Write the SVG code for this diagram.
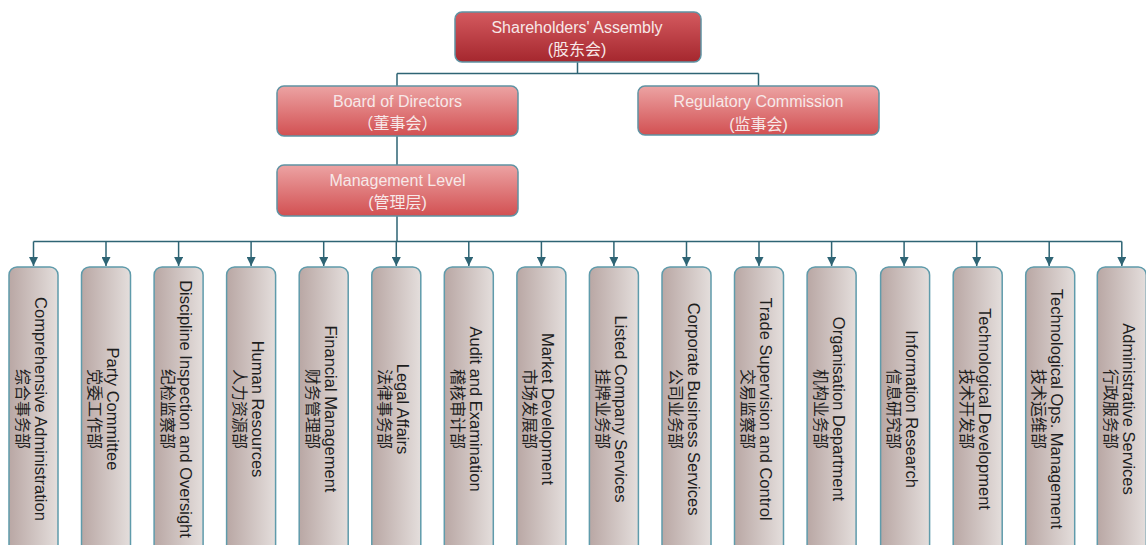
<svg xmlns="http://www.w3.org/2000/svg" width="1146" height="545" viewBox="0 0 1146 545">
<defs>
<linearGradient id="gTop" x1="0" y1="0" x2="0" y2="1"><stop offset="0" stop-color="#d45a5f"/><stop offset="1" stop-color="#a5272e"/></linearGradient>
<linearGradient id="gMid" x1="0" y1="0" x2="0" y2="1"><stop offset="0" stop-color="#eca3a3"/><stop offset="1" stop-color="#d25052"/></linearGradient>
<linearGradient id="gDept" x1="0" y1="0" x2="1" y2="0"><stop offset="0" stop-color="#b9a7a4"/><stop offset="1" stop-color="#e4dedc"/></linearGradient>
<marker id="arr" viewBox="0 0 10 10" refX="10" refY="5" markerWidth="9" markerHeight="9" markerUnits="userSpaceOnUse" orient="auto"><path d="M0,0 L10,5 L0,10 z" fill="#2e6474"/></marker>
<style>
.node{stroke:#5f93a3;stroke-width:1.5}
.nt{font-family:"Liberation Sans","Noto Sans CJK SC",sans-serif;font-size:16px;fill:#f7e8e8;text-anchor:middle}
.dept{fill:url(#gDept);stroke:#5f9bab;stroke-width:1.5}
.dt{font-family:"Liberation Sans","Noto Sans CJK SC",sans-serif;font-size:16.5px;fill:#1e1e1e;text-anchor:middle}
.cn{font-family:"Noto Sans CJK SC",sans-serif;font-size:16px}
.conn{stroke:#2e6474;stroke-width:1.5;fill:none}
</style>
</defs>
<rect width="1146" height="545" fill="#ffffff"/>
<g id="connectors" class="conn">
<path d="M577.5,62 V73.5 M397,73.5 H758.5 M397,73.5 V86 M758.5,73.5 V86 M397,136 V165 M397,216 V241.5 M33.5,241.5 H1121.75"/>
<line x1="33.5" y1="241.5" x2="33.5" y2="266" marker-end="url(#arr)"/>
<line x1="106" y1="241.5" x2="106" y2="266" marker-end="url(#arr)"/>
<line x1="178.6" y1="241.5" x2="178.6" y2="266" marker-end="url(#arr)"/>
<line x1="251.1" y1="241.5" x2="251.1" y2="266" marker-end="url(#arr)"/>
<line x1="323.7" y1="241.5" x2="323.7" y2="266" marker-end="url(#arr)"/>
<line x1="396.3" y1="241.5" x2="396.3" y2="266" marker-end="url(#arr)"/>
<line x1="468.8" y1="241.5" x2="468.8" y2="266" marker-end="url(#arr)"/>
<line x1="541.4" y1="241.5" x2="541.4" y2="266" marker-end="url(#arr)"/>
<line x1="613.9" y1="241.5" x2="613.9" y2="266" marker-end="url(#arr)"/>
<line x1="686.5" y1="241.5" x2="686.5" y2="266" marker-end="url(#arr)"/>
<line x1="759" y1="241.5" x2="759" y2="266" marker-end="url(#arr)"/>
<line x1="831.6" y1="241.5" x2="831.6" y2="266" marker-end="url(#arr)"/>
<line x1="904.1" y1="241.5" x2="904.1" y2="266" marker-end="url(#arr)"/>
<line x1="976.7" y1="241.5" x2="976.7" y2="266" marker-end="url(#arr)"/>
<line x1="1049.2" y1="241.5" x2="1049.2" y2="266" marker-end="url(#arr)"/>
<line x1="1121.8" y1="241.5" x2="1121.8" y2="266" marker-end="url(#arr)"/>
</g>
<g id="shareholders">
<rect class="node" x="455" y="12" width="246" height="50" rx="7" fill="url(#gTop)"/>
<text class="nt" x="577" y="33">Shareholders' Assembly</text>
<text class="nt" x="577" y="55">(<tspan class="cn">股东会</tspan>)</text>
</g>
<g id="board">
<rect class="node" x="277" y="86" width="241" height="50" rx="7" fill="url(#gMid)"/>
<text class="nt" x="397.5" y="106.5">Board of Directors</text>
<text class="nt cn" x="397.5" y="129">（董事会）</text>
</g>
<g id="regulatory">
<rect class="node" x="638" y="86" width="241" height="49" rx="7" fill="url(#gMid)"/>
<text class="nt" x="758.5" y="106.5">Regulatory Commission</text>
<text class="nt" x="758.5" y="129.5">(<tspan class="cn">监事会</tspan>)</text>
</g>
<g id="management">
<rect class="node" x="277" y="165" width="241" height="51" rx="7" fill="url(#gMid)"/>
<text class="nt" x="397.5" y="186">Management Level</text>
<text class="nt" x="397.5" y="208">(<tspan class="cn">管理层</tspan>)</text>
</g>
<g id="d1"><rect class="dept" x="9" y="267" width="49" height="290" rx="8"/><text class="dt" transform="translate(33.5,409) rotate(90)"><tspan x="0" y="-1">Comprehensive Administration</tspan><tspan class="cn" x="0" y="17">综合事务部</tspan></text></g>
<g id="d2"><rect class="dept" x="81.5" y="267" width="49" height="290" rx="8"/><text class="dt" transform="translate(106,409) rotate(90)"><tspan x="0" y="-1">Party Committee</tspan><tspan class="cn" x="0" y="17">党委工作部</tspan></text></g>
<g id="d3"><rect class="dept" x="154.1" y="267" width="49" height="290" rx="8"/><text class="dt" transform="translate(178.6,409) rotate(90)"><tspan x="0" y="-1">Discipline Inspection and Oversight</tspan><tspan class="cn" x="0" y="17">纪检监察部</tspan></text></g>
<g id="d4"><rect class="dept" x="226.6" y="267" width="49" height="290" rx="8"/><text class="dt" transform="translate(251.1,409) rotate(90)"><tspan x="0" y="-1">Human Resources</tspan><tspan class="cn" x="0" y="17">人力资源部</tspan></text></g>
<g id="d5"><rect class="dept" x="299.2" y="267" width="49" height="290" rx="8"/><text class="dt" transform="translate(323.7,409) rotate(90)"><tspan x="0" y="-1">Financial Management</tspan><tspan class="cn" x="0" y="17">财务管理部</tspan></text></g>
<g id="d6"><rect class="dept" x="371.8" y="267" width="49" height="290" rx="8"/><text class="dt" transform="translate(396.3,409) rotate(90)"><tspan x="0" y="-1">Legal Affairs</tspan><tspan class="cn" x="0" y="17">法律事务部</tspan></text></g>
<g id="d7"><rect class="dept" x="444.3" y="267" width="49" height="290" rx="8"/><text class="dt" transform="translate(468.8,409) rotate(90)"><tspan x="0" y="-1">Audit and Examination</tspan><tspan class="cn" x="0" y="17">稽核审计部</tspan></text></g>
<g id="d8"><rect class="dept" x="516.9" y="267" width="49" height="290" rx="8"/><text class="dt" transform="translate(541.4,409) rotate(90)"><tspan x="0" y="-1">Market Development</tspan><tspan class="cn" x="0" y="17">市场发展部</tspan></text></g>
<g id="d9"><rect class="dept" x="589.4" y="267" width="49" height="290" rx="8"/><text class="dt" transform="translate(613.9,409) rotate(90)"><tspan x="0" y="-1">Listed Company Services</tspan><tspan class="cn" x="0" y="17">挂牌业务部</tspan></text></g>
<g id="d10"><rect class="dept" x="662" y="267" width="49" height="290" rx="8"/><text class="dt" transform="translate(686.5,409) rotate(90)"><tspan x="0" y="-1">Corporate Business Services</tspan><tspan class="cn" x="0" y="17">公司业务部</tspan></text></g>
<g id="d11"><rect class="dept" x="734.5" y="267" width="49" height="290" rx="8"/><text class="dt" transform="translate(759,409) rotate(90)"><tspan x="0" y="-1">Trade Supervision and Control</tspan><tspan class="cn" x="0" y="17">交易监察部</tspan></text></g>
<g id="d12"><rect class="dept" x="807.1" y="267" width="49" height="290" rx="8"/><text class="dt" transform="translate(831.6,409) rotate(90)"><tspan x="0" y="-1">Organisation Department</tspan><tspan class="cn" x="0" y="17">机构业务部</tspan></text></g>
<g id="d13"><rect class="dept" x="880.6" y="267" width="49" height="290" rx="8"/><text class="dt" transform="translate(905.1,409) rotate(90)"><tspan x="0" y="-1">Information Research</tspan><tspan class="cn" x="0" y="17">信息研究部</tspan></text></g>
<g id="d14"><rect class="dept" x="953.2" y="267" width="49" height="290" rx="8"/><text class="dt" transform="translate(977.7,409) rotate(90)"><tspan x="0" y="-1">Technological Development</tspan><tspan class="cn" x="0" y="17">技术开发部</tspan></text></g>
<g id="d15"><rect class="dept" x="1025.7" y="267" width="49" height="290" rx="8"/><text class="dt" transform="translate(1050.2,409) rotate(90)"><tspan x="0" y="-1">Technological Ops. Management</tspan><tspan class="cn" x="0" y="17">技术运维部</tspan></text></g>
<g id="d16"><rect class="dept" x="1097.3" y="267" width="49" height="290" rx="8"/><text class="dt" transform="translate(1121.8,409) rotate(90)"><tspan x="0" y="-1">Administrative Services</tspan><tspan class="cn" x="0" y="17">行政服务部</tspan></text></g>
</svg>
